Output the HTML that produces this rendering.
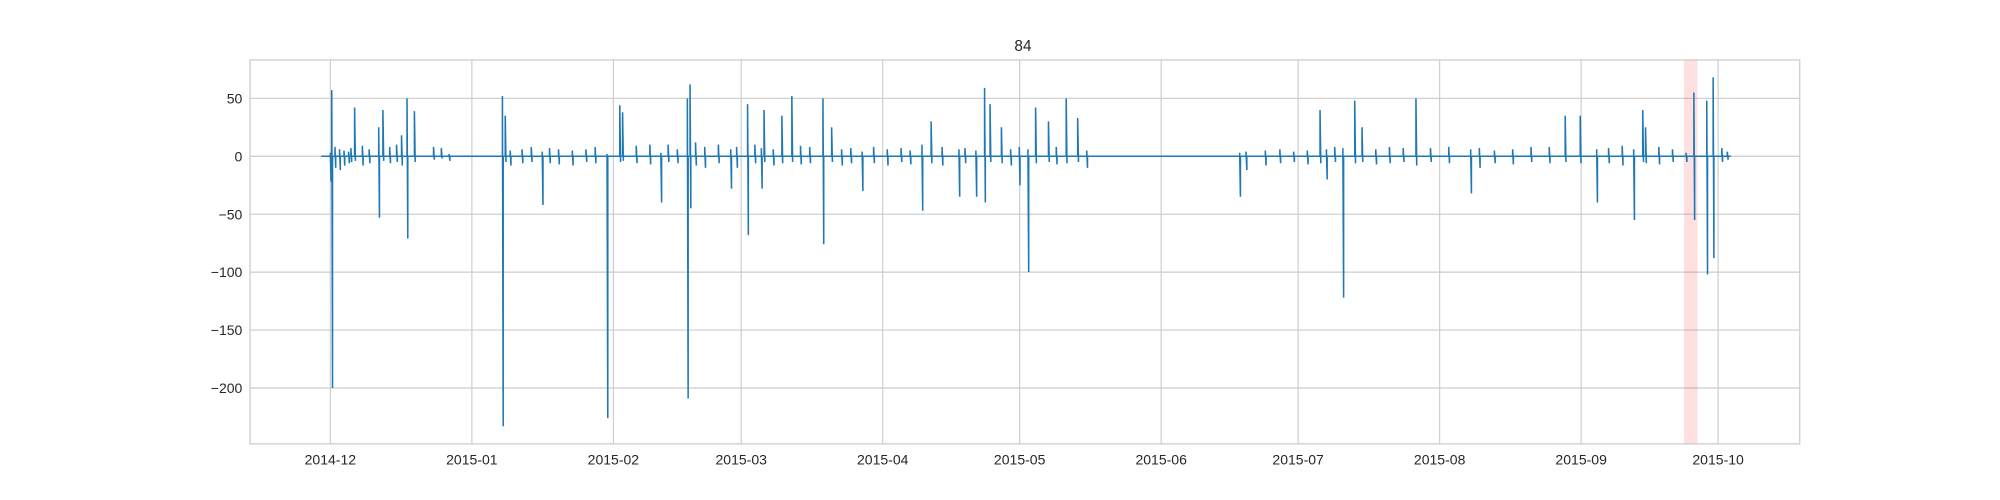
<!DOCTYPE html>
<html><head><meta charset="utf-8"><style>
html,body{margin:0;padding:0;background:#fff}
svg{display:block;font-family:"Liberation Sans","DejaVu Sans",sans-serif}
</style></head><body>
<svg id="chart" width="2000" height="500" viewBox="0 0 1568 392" preserveAspectRatio="none">
<rect width="1568" height="392" fill="#fff"/>
<text x="802" y="40" text-anchor="middle" font-size="12" fill="#262626">84</text>
<g id="grid"></g>
<g id="span"></g>
<g id="series"></g>
<rect x="196" y="47" width="1215" height="301" fill="none" stroke="#ccc" stroke-width="1"/>
<g id="xticks"></g>
<g id="yticks"></g>
</svg>
<script>
const xTickLabels=["2014-12","2015-01","2015-02","2015-03","2015-04","2015-05","2015-06","2015-07","2015-08","2015-09","2015-10"];
const xTickDays=[0,31,62,90,121,151,182,212,243,274,304];
const yTickValues=[50,0,-50,-100,-150,-200];
const spikeDays=[0,0.3,1,2,3,4,4.5,5.3,7,8.5,10.6,11.5,13,14.5,15.6,16.8,18.4,22.6,24.3,26,37.7,38.3,39.4,42,44,46.4,48,50,53,56,58,60.6,63.4,64,67,70,72.4,74,76,78.2,78.8,80,82,85,87.7,89,91.4,93,94.4,95,97,98.9,101.1,103,105,107.9,109.8,112,114,116.5,119,122,125,127,129.6,131.6,134,137.7,139,141.4,143.3,144.5,147,149,150.9,152.8,154.5,157.3,159,161.2,163.7,165.7,199.2,200.6,204.8,208,211,214,216.8,218.2,220,221.8,224.4,226,229,232,235,237.8,241,245,249.8,251.7,255,259,263,267,270.5,273.8,277.4,280,283,285.5,287.5,288.1,291,294,297,298.7,301.5,302.9,304.8,306];
const spikeHi=[3,57,8,6,5,4,7,42,9,6,25,40,8,10,18,50,39,8,7,2,52,35,5,6,8,4,7,6,5,6,8,2,44,38,9,10,3,10,6,50,62,12,8,10,6,8,45,10,7,40,6,35,52,9,8,50,25,6,7,4,8,6,7,5,10,30,8,6,7,5,59,45,25,6,8,6,42,30,8,50,33,5,3,4,5,6,4,5,40,6,8,7,48,25,6,8,7,50,7,8,6,7,5,6,8,8,35,35,6,7,9,6,40,25,8,6,3,55,48,68,7,4];
const spikeLo=[-22,-200,-10,-12,-8,-6,-5,-4,-8,-6,-53,-4,-6,-5,-8,-71,-5,-3,-2,-4,-233,-5,-8,-6,-5,-42,-6,-7,-8,-5,-6,-226,-5,-4,-6,-7,-40,-5,-6,-209,-45,-8,-10,-6,-28,-10,-68,-6,-28,-5,-8,-6,-5,-7,-6,-76,-5,-8,-6,-30,-6,-8,-5,-7,-47,-6,-8,-35,-6,-35,-40,-5,-6,-8,-25,-100,-6,-5,-7,-6,-5,-10,-35,-12,-8,-6,-5,-7,-6,-20,-5,-122,-6,-5,-7,-6,-5,-8,-5,-6,-32,-10,-6,-7,-5,-6,-5,-6,-40,-6,-8,-55,-5,-6,-7,-5,-5,-55,-102,-88,-5,-3];
const spanStart=296.5, spanEnd=299.5;

const ns="http://www.w3.org/2000/svg";
const X0=259, PXD=1088/304;
function xScale(d){return X0+d*PXD;}
function yScale(v){return 122.5-v*0.9085;}
function mk(t,a,p){const e=document.createElementNS(ns,t);for(const k in a)e.setAttribute(k,a[k]);p.appendChild(e);return e;}
const grid=document.getElementById('grid'),xt=document.getElementById('xticks'),yt=document.getElementById('yticks');
xTickDays.forEach((d,i)=>{const x=xScale(d);
 const l=mk('line',{x1:x,x2:x,y1:47,y2:348,stroke:'#ccc','stroke-width':0.9},grid);
 
 
 const t=mk('text',{x:x,y:364,'text-anchor':'middle','font-size':11,fill:'#262626'},xt);
 t.textContent=xTickLabels[i];
 
 
});
yTickValues.forEach(v=>{const y=yScale(v);
 const l=mk('line',{x1:196,x2:1411,y1:y,y2:y,stroke:'#ccc','stroke-width':0.9},grid);
 
 
 const t=mk('text',{x:190,y:y+4,'text-anchor':'end','font-size':11,fill:'#262626'},yt);
 t.textContent=v<0?'\u2212'+Math.abs(v):String(v);
 
 
});
const sp=mk('rect',{x:xScale(spanStart),y:47,width:xScale(spanEnd)-xScale(spanStart),height:301,fill:'#ff0000','fill-opacity':0.12},document.getElementById('span'));


let pts=[[xScale(-2),yScale(0)]];
spikeDays.forEach((d,i)=>{const x=xScale(d);
 pts.push([x,yScale(0)],[x,yScale(spikeHi[i])],[x+0.6,yScale(spikeLo[i])],[x+0.6,yScale(0)]);});
pts.push([xScale(306.8),yScale(0)]);
const pl=mk('polyline',{points:pts.map(p=>p[0].toFixed(1)+','+p[1].toFixed(1)).join(' '),fill:'none',stroke:'#1f77b4','stroke-width':1.2},document.getElementById('series'));


</script>
</body></html>
